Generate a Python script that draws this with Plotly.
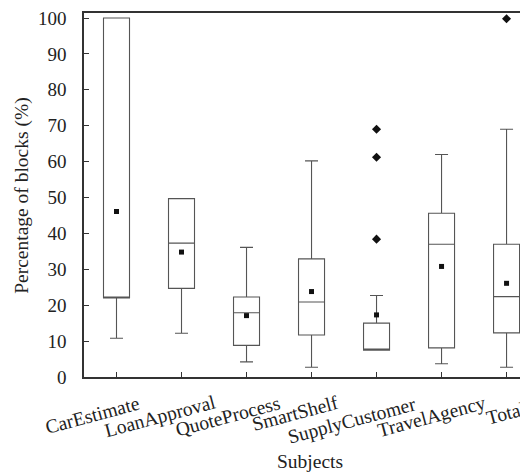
import plotly.graph_objects as go

# ---- data ----
subjects = ["CarEstimate", "LoanApproval", "QuoteProcess", "SmartShelf",
            "SupplyCustomer", "TravelAgency", "Total"]
lower_whisker = [10.8, 12.2, 4.2, 2.7, 7.5, 3.7, 2.7]
q1_values = [22.0, 24.7, 8.8, 11.7, 7.5, 8.1, 12.3]
median_values = [22.0, 37.3, 17.9, 20.9, 7.5, 37.0, 22.4]
q3_values = [100.0, 49.7, 22.3, 32.9, 15.0, 45.6, 37.0]
upper_whisker = [100.0, 49.7, 36.1, 60.2, 22.7, 62.0, 69.0]
mean_values = [46.1, 34.8, 17.1, 23.8, 17.3, 30.8, 26.1]
outlier_subjects = ["SupplyCustomer", "SupplyCustomer", "SupplyCustomer", "Total"]
outlier_values = [69.0, 61.2, 38.4, 99.8]

y_ticks = [0, 10, 20, 30, 40, 50, 60, 70, 80, 90, 100]

# ---- layout/styling ----
FONT = "Liberation Serif"
label_xshift = [-25, -22, -19, -17, -25, -10, -1]
label_yshift = [-38, -39, -39, -36, -43, -39, -36]

fig = go.Figure()
fig.add_trace(go.Box(
    x=subjects, q1=q1_values, median=median_values, q3=q3_values,
    lowerfence=lower_whisker, upperfence=upper_whisker,
    width=0.4, whiskerwidth=0.5, boxpoints=False,
    fillcolor="white", line=dict(color="#555555", width=1.1),
    showlegend=False, hoverinfo="skip",
))
fig.add_trace(go.Scatter(
    x=subjects, y=mean_values, mode="markers",
    marker=dict(symbol="square", size=5, color="#111111"),
    showlegend=False,
))
fig.add_trace(go.Scatter(
    x=outlier_subjects, y=outlier_values, mode="markers",
    marker=dict(symbol="diamond", size=7, color="#111111"),
    showlegend=False,
))

for i, s in enumerate(subjects):
    fig.add_annotation(
        x=s, xref="x", y=0, yref="y", text=s, showarrow=False,
        textangle=-15, xanchor="center", yanchor="middle",
        xshift=label_xshift[i], yshift=label_yshift[i],
        font=dict(family=FONT, size=19.5, color="#222222"),
    )

fig.add_annotation(
    x=-0.14, xref="paper", y=0.5, yref="paper",
    text="Percentage of blocks (%)", textangle=-90, showarrow=False,
    xanchor="center", yanchor="middle",
    font=dict(family=FONT, size=19.5, color="#222222"),
)
fig.add_annotation(
    x=0.509, xref="paper", y=-0.232, yref="paper",
    text="Subjects", showarrow=False, xanchor="center", yanchor="middle",
    font=dict(family=FONT, size=19.5, color="#222222"),
)

fig.update_layout(
    width=520, height=467,
    margin=dict(l=76, r=0, t=3, b=98),
    paper_bgcolor="white", plot_bgcolor="white",
    font=dict(family=FONT, size=19, color="#222222"),
    xaxis=dict(
        type="category", categoryorder="array", categoryarray=subjects,
        range=[-0.5, 6.33], showticklabels=False,
        ticks="inside", ticklen=5, tickcolor="#333333", tickwidth=1.2,
        showline=True, linecolor="#333333", linewidth=1.6, mirror=True,
        showgrid=False, zeroline=False, fixedrange=True,
    ),
    yaxis=dict(
        range=[0, 101.4], tickvals=y_ticks,
        ticks="inside", ticklen=5, tickcolor="#333333", tickwidth=1.2,
        showline=True, linecolor="#333333", linewidth=1.6,
        showgrid=False, zeroline=False, ticklabelstandoff=12,
        ticklabeloverflow="allow",
        tickfont=dict(family=FONT, size=19, color="#222222"),
    ),
)

fig.write_html("out.html")
